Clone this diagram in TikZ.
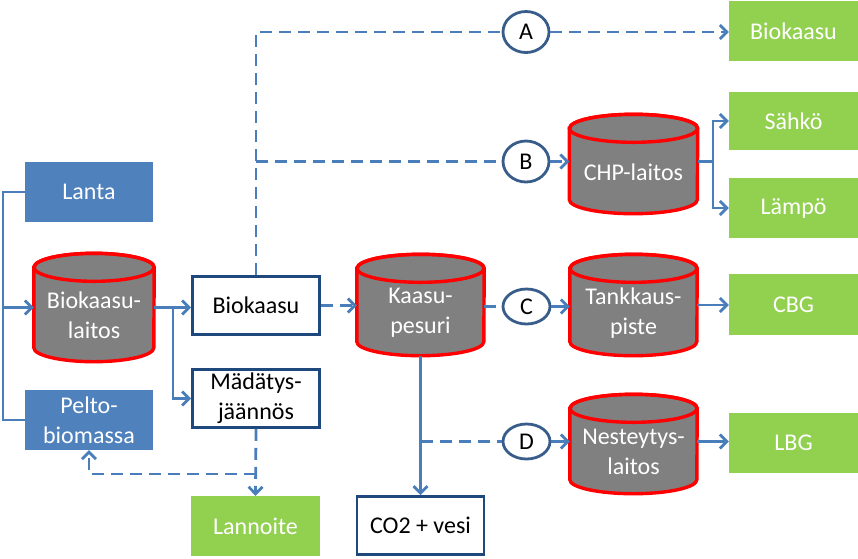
\documentclass[tikz,border=0pt]{standalone}
\usepackage{fontspec}
\setmainfont{Carlito}
\usetikzlibrary{arrows.meta,shapes.geometric}
\definecolor{bxblue}{HTML}{4F81BD}
\definecolor{bxgreen}{HTML}{92D050}
\definecolor{ln}{HTML}{4A7EBB}
\definecolor{dk}{HTML}{1F497D}
\definecolor{cdk}{HTML}{385D8A}
\definecolor{cg}{HTML}{808080}
\definecolor{cr}{HTML}{FF0000}
\tikzset{
 txt/.style={font=\fontsize{24}{30}\selectfont, align=center, inner sep=0pt},
 bluebox/.style={txt, fill=bxblue, text=white, minimum width=128pt, minimum height=60pt},
 greenbox/.style={txt, fill=bxgreen, text=white, minimum width=129pt, minimum height=60pt},
 whitebox/.style={txt, draw=dk, line width=2.8pt, fill=white, text=black, minimum width=127pt, minimum height=58pt},
 circ/.style={txt, ellipse, draw=cdk, line width=2.8pt, fill=white, text=black},
 cylbox/.style={inner sep=0pt},
 cylst/.style={fill=cg, draw=cr, line width=3.4pt},
 lnsolid/.style={draw=ln, line width=2.8pt},
 lndash/.style={draw=ln, line width=2.8pt, dash pattern=on 12pt off 7pt},
 tip/.style={-{Straight Barb[length=7pt,width=14pt]}},
}
\newcommand\mkcyl[6]{%
 \node[cylbox, minimum width=#4pt, minimum height=#5pt] (#1) at (#2,#3) {};
 \filldraw[cylst] ([yshift=-14pt]#1.north west) -- ([yshift=14pt]#1.south west)
   arc[start angle=180, end angle=360, x radius=0.5*#4pt, y radius=14pt]
   -- ([yshift=-14pt]#1.north east)
   arc[start angle=0, end angle=180, x radius=0.5*#4pt, y radius=14pt] -- cycle;
 \draw[cylst, fill=none] ([yshift=-14pt]#1.north) ellipse [x radius=0.5*#4pt, y radius=14pt];
 \node[txt, text=white] at ([yshift=-8pt]#1.center) {#6};
}
\begin{document}
\begin{tikzpicture}[x=1pt, y=-1pt]
\useasboundingbox (0,0) rectangle (858,558);
% input boxes
\node[bluebox] (lanta) at (89,192) {Lanta};
\node[bluebox] (pelto) at (89,420) {Pelto-\\biomassa};
% cylinders
\mkcyl{biol}{94}{307.5}{120}{108}{Biokaasu-\\laitos}
\mkcyl{kp}{420.5}{305}{127}{101}{Kaasu-\\pesuri}
\mkcyl{tank}{633.5}{305}{127}{101}{Tankkaus-\\piste}
\mkcyl{nest}{633.5}{444}{127}{99}{Nesteytys-\\laitos}
\mkcyl{chp}{633.5}{164}{128}{99}{CHP-laitos}
% white boxes
\node[whitebox] (biok) at (256,305.5) {Biokaasu};
\node[whitebox] (mad) at (256,398.5) {Mädätys-\\jäännös};
\node[whitebox] (co2) at (420.5,525.5) {CO2 + vesi};
% green boxes
\node[greenbox] (biog) at (793.5,31) {Biokaasu};
\node[greenbox, minimum height=58pt] (sahko) at (793.5,121) {Sähkö};
\node[greenbox] (lampo) at (793.5,208) {Lämpö};
\node[greenbox, minimum height=61pt] (cbg) at (793.5,304.5) {CBG};
\node[greenbox] (lbg) at (793.5,443) {LBG};
\node[greenbox] (lann) at (255.5,526) {Lannoite};
% circles
\node[circ, minimum width=46pt, minimum height=41pt] (A) at (526,32) {A};
\node[circ, minimum width=46pt, minimum height=41pt] (B) at (526,161.5) {B};
\node[circ, minimum width=47pt, minimum height=35pt] (C) at (526.5,306.5) {C};
\node[circ, minimum width=47pt, minimum height=35pt] (D) at (526.5,441.5) {D};
% junction coordinates
\coordinate (lj) at (3,307.5);
\coordinate (br1) at (173,307.5);
\coordinate (topc) at (256,32);
\coordinate (bj) at (256,161.5);
\coordinate (chpj) at (713,161.5);
\coordinate (dj) at (420.5,441.5);
\coordinate (lj2) at (256,474);
% connectors: inputs
\draw[lnsolid] (lanta.west) -- (lj |- lanta.west) -- (lj |- pelto.west) -- (pelto.west);
\draw[lnsolid, tip] (lj) -- (biol.west);
\draw[lnsolid, tip] (biol.east) -- (biok.west |- biol.east);
\draw[lnsolid, tip] (br1) |- (mad.west);
% biogas routes
\draw[lndash] (biok.north) -- (topc) -- (A.west);
\draw[lndash, tip] (A.east) -- (biog.west |- A.east);
\draw[lndash] (bj) -- (B.west);
\draw[lndash, tip] (B.east) -- (chp.west |- B.east);
\draw[lnsolid] (chp.east |- B.east) -- (chpj);
\draw[lnsolid, tip] (chpj) |- (sahko.west);
\draw[lnsolid, tip] (chpj) |- (lampo.west);
\draw[lndash, tip] (biok.east) -- (kp.west |- biok.east);
\draw[lndash] (kp.east |- C.west) -- (C.west);
\draw[lnsolid, tip] (C.east) -- (tank.west |- C.east);
\draw[lnsolid, tip] (tank.east) -- (cbg.west |- tank.east);
\draw[lnsolid, tip] (kp.south) -- (co2.north);
\draw[lndash] (dj) -- (D.west);
\draw[lnsolid, tip] (D.east) -- (nest.west |- D.east);
\draw[lnsolid, tip] (nest.east |- D.east) -- (lbg.west |- D.east);
% digestate
\draw[lndash, tip] (mad.south) -- (lann.north);
\draw[lndash, tip] (lj2) -| (pelto.south);
\end{tikzpicture}
\end{document}
